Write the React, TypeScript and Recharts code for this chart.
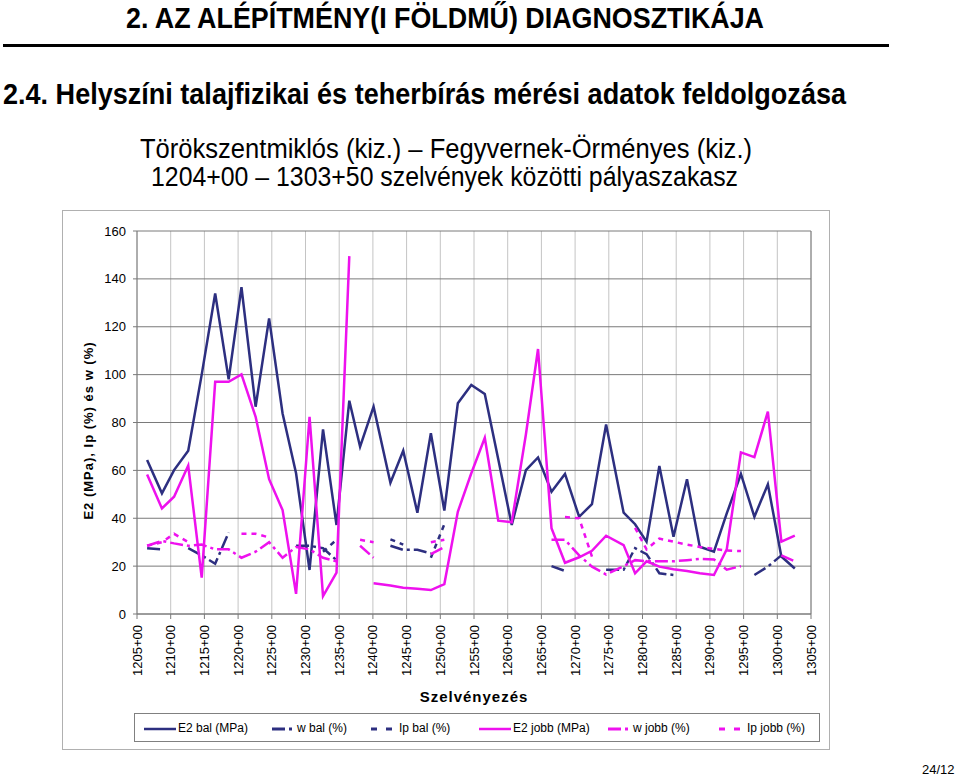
import React from 'react';
import { LineChart, Line, XAxis, YAxis, CartesianGrid, ReferenceLine, Label } from 'recharts';

// measured chainages (hm) and readings
const stations = [1206.5, 1208.7, 1210.5, 1212.6, 1214.6, 1216.6, 1218.6, 1220.5, 1222.6, 1224.6, 1226.6, 1228.6, 1230.6, 1232.6, 1234.6, 1236.5, 1238.1, 1240.1, 1242.6, 1244.5, 1246.6, 1248.6, 1250.6, 1252.6, 1254.6, 1256.6, 1258.6, 1260.6, 1262.7, 1264.5, 1266.5, 1268.5, 1270.6, 1272.5, 1274.6, 1277.2, 1278.9, 1280.6, 1282.5, 1284.6, 1286.6, 1288.5, 1290.6, 1292.5, 1294.6, 1296.6, 1298.6, 1300.6, 1302.6];

const e2Bal = [64.3, 50.4, 60.1, 68.2, 100, 133.9, 98, 136.5, 86.6, 123.5, 83.8, 58.8, 18.4, 77.1, 37.2, 89.1, 69.9, 86.6, 54.8, 68.2, 42.3, 75.5, 43.2, 88, 95.7, 91.9, 64.6, 37.2, 60.1, 65.4, 51.1, 58.5, 40.6, 45.9, 79.2, 42.3, 37.5, 30.2, 61.8, 32.3, 56.3, 28.1, 26, 42, 58.5, 40.6, 54.2, 24, 19];

const wBal = [27.5, 27, null, 27.5, 24.5, 21, 34, null, null, null, null, 28.5, 28.5, 27.5, 22.5, null, null, null, 28.5, 26.8, 26.8, 25.3, null, null, null, null, null, null, null, null, 20, 18, null, null, 18.5, 18.5, 27.5, 25, 17, 16.3, null, null, null, null, null, 16.3, 19.8, 24.5, null];

const ipBal = [null, null, null, null, null, null, null, null, null, null, null, null, null, 26, 31, null, null, null, 31.2, 29, null, 23.5, 37.5, null, null, null, null, null, null, null, null, null, null, null, null, null, null, null, null, null, null, null, null, null, null, null, null, null, null];

const e2Jobb = [58.3, 44.1, 49, 62, 15.2, 97, 97, 100.1, 82.4, 56.3, 43.4, 8.4, 82.4, 7.5, 17.3, 149.5, null, 12.8, 11.9, 11, 10.5, 10, 12.5, 42.7, 58.8, 73.6, 39, 38.3, 75, 110.7, 35.8, 21.4, 23.7, 26.4, 32.7, 28.8, 17, 22, 19.8, 18.7, 18, 17, 16.3, 27, 67.5, 65.5, 84.5, 30.2, 32.7];

const wJobb = [28.5, 30.5, 29.5, 28.5, 29, 27, 27, 23.5, 26, 30, 23.5, 28, 27, 23.5, 22, null, 28.5, 23.5, null, null, null, 25, 28, null, null, null, null, null, null, null, 31, 31, 24.5, 19.8, 16.5, 20, 22.5, 22, 22, 22, 22.5, 23, 22.8, 18.5, 20, null, null, 24.5, 22];

const ipJobb = [28.5, 30, 33.5, 30, null, null, null, 33.5, 33.5, 32, null, null, null, null, null, null, 31, 30, null, null, null, 30, 31, null, null, null, null, null, null, null, null, 40.5, 40, 24, null, null, 36, 27, 31.5, 30.2, 29, 28, 27.2, 26.5, 26.3, null, null, null, null];

const xTicks = [1205, 1210, 1215, 1220, 1225, 1230, 1235, 1240, 1245, 1250, 1255, 1260, 1265, 1270, 1275, 1280, 1285, 1290, 1295, 1300, 1305];
const yTicks = [0, 20, 40, 60, 80, 100, 120, 140, 160];

const legendLabels = ['E2 bal (MPa)', 'w bal (%)', 'Ip bal (%)', 'E2 jobb (MPa)', 'w jobb (%)', 'Ip jobb (%)'];

const NAVY = '#2D2F80';
const MAGENTA = '#EE11EE';
const FONT = "'Liberation Sans', Arial, Helvetica, sans-serif";
const W_DASH = '13 4 3 4';
const IP_DASH = '5 5';

const rows = stations.map((s, i) => ({
    s,
    e2Bal: e2Bal[i],
    wBal: wBal[i],
    ipBal: ipBal[i],
    e2Jobb: e2Jobb[i],
    wJobb: wJobb[i],
    ipJobb: ipJobb[i],
}));

const measure = (text: string, font: string) => {
    const ctx = document.createElement('canvas').getContext('2d');
    if (!ctx) return text.length * 10;
    ctx.font = font;
    return ctx.measureText(text).width;
};

// text squeezed horizontally to the width it has in the slide
const FitText = ({ text, left, center, top, width, size, weight }: any) => {
    const natural = measure(text, `${weight} ${size}px ${FONT}`);
    const sx = width / natural;
    const x = center !== undefined ? center - width / 2 : left;
    return (
        <div
            style={{
                position: 'absolute',
                left: x,
                top,
                whiteSpace: 'nowrap',
                fontFamily: FONT,
                fontSize: size,
                fontWeight: weight,
                lineHeight: 1,
                color: '#000',
                transform: `scaleX(${sx})`,
                transformOrigin: '0 0',
            }}
        >
            {text}
        </div>
    );
};

const StationTick = ({ x, y, payload }: any) => (
    <text
        x={x}
        y={y}
        transform={`rotate(-90, ${x}, ${y})`}
        textAnchor="end"
        dominantBaseline="central"
        fontSize={13}
        fill="#000"
        fontFamily={FONT}
    >
        {`${payload.value}+00`}
    </text>
);

const XTitle = ({ viewBox }: any) => (
    <text
        x={viewBox.x + viewBox.width / 2}
        y={viewBox.y + 88}
        textAnchor="middle"
        fontSize={15}
        fontWeight="bold"
        letterSpacing={1}
        fill="#000"
        fontFamily={FONT}
    >
        Szelvényezés
    </text>
);

const YTitle = ({ viewBox }: any) => {
    const cx = viewBox.x + 26;
    const cy = viewBox.y + viewBox.height / 2 + 8;
    return (
        <text
            x={cx}
            y={cy}
            transform={`rotate(-90, ${cx}, ${cy})`}
            textAnchor="middle"
            dominantBaseline="central"
            fontSize={13}
            fontWeight="bold"
            letterSpacing={1}
            fill="#000"
            fontFamily={FONT}
        >
            E2 (MPa), Ip (%) és w (%)
        </text>
    );
};

const Swatch = ({ color, kind }: any) => (
    <svg width={34} height={10} style={{ position: 'absolute', left: 0, top: 4 }}>
        {kind === 'solid' && <line x1={1} y1={5} x2={33} y2={5} stroke={color} strokeWidth={2.5} />}
        {kind === 'w' && (
            <>
                <line x1={10} y1={5} x2={23} y2={5} stroke={color} strokeWidth={3} />
                <line x1={27} y1={5} x2={30} y2={5} stroke={color} strokeWidth={3} />
            </>
        )}
        {kind === 'ip' && (
            <>
                <line x1={7} y1={5} x2={13} y2={5} stroke={color} strokeWidth={3} />
                <line x1={22} y1={5} x2={28} y2={5} stroke={color} strokeWidth={3} />
            </>
        )}
    </svg>
);

const legendStyle = [
    { color: NAVY, kind: 'solid', textX: 178 },
    { color: NAVY, kind: 'w', textX: 297 },
    { color: NAVY, kind: 'ip', textX: 399 },
    { color: MAGENTA, kind: 'solid', textX: 513 },
    { color: MAGENTA, kind: 'w', textX: 633 },
    { color: MAGENTA, kind: 'ip', textX: 747 },
];

const ChartLegend = () => (
    <div
        style={{
            position: 'absolute',
            left: 134,
            top: 713,
            width: 684,
            height: 27,
            border: '1px solid #808080',
            fontFamily: FONT,
            fontSize: 12,
        }}
    >
        {legendLabels.map((label, i) => {
            const st = legendStyle[i];
            return (
                <div key={label} style={{ position: 'absolute', left: st.textX - 135 - 35, top: 6, height: 16 }}>
                    <Swatch color={st.color} kind={st.kind} />
                    <span style={{ position: 'absolute', left: 35, top: 0, whiteSpace: 'nowrap', lineHeight: '16px' }}>{label}</span>
                </div>
            );
        })}
    </div>
);

export default function App() {
    return (
        <div style={{ position: 'absolute', left: 0, top: 0, width: 960, height: 776, background: '#fff', overflow: 'hidden' }}>
            <FitText text="2. AZ ALÉPÍTMÉNY(I FÖLDMŰ) DIAGNOSZTIKÁJA" center={446} top={3} width={640} size={30} weight="bold" />
            <div style={{ position: 'absolute', left: 3, top: 44, width: 886, height: 3, background: '#000' }} />
            <FitText text="2.4. Helyszíni talajfizikai és teherbírás mérési adatok feldolgozása" left={3} top={79} width={843} size={30} weight="bold" />
            <FitText text="Törökszentmiklós (kiz.) – Fegyvernek-Örményes (kiz.)" center={446} top={136} width={612} size={27} weight="normal" />
            <FitText text="1204+00 – 1303+50 szelvények közötti pályaszakasz" center={444} top={164} width={587} size={27} weight="normal" />

            <div style={{ position: 'absolute', left: 62, top: 210, width: 768, height: 540, border: '1px solid #b0b0b0', boxSizing: 'border-box' }} />
            <div style={{ position: 'absolute', left: 62, top: 210 }}>
                <LineChart width={768} height={540} data={rows} margin={{ top: 21, right: 19, bottom: 0, left: 0 }}>
                    <CartesianGrid horizontal={false} vertical stroke="#c4c4c4" strokeWidth={1} />
                    <CartesianGrid horizontal vertical={false} stroke="#7a7a7a" strokeWidth={1} />
                    <ReferenceLine x={1305} stroke="#7a7a7a" strokeWidth={1} />
                    <XAxis
                        dataKey="s"
                        type="number"
                        domain={[1205, 1305]}
                        ticks={xTicks}
                        interval={0}
                        allowDataOverflow
                        height={136}
                        tickSize={5}
                        tickMargin={6}
                        tick={<StationTick />}
                        axisLine={{ stroke: '#7a7a7a' }}
                        tickLine={{ stroke: '#7a7a7a' }}
                    >
                        <Label content={<XTitle />} />
                    </XAxis>
                    <YAxis
                        type="number"
                        domain={[0, 160]}
                        ticks={yTicks}
                        interval={0}
                        width={75}
                        tickSize={4}
                        tickMargin={7}
                        tick={{ fontSize: 13, fill: '#000', fontFamily: FONT }}
                        axisLine={{ stroke: '#7a7a7a' }}
                        tickLine={{ stroke: '#7a7a7a' }}
                    >
                        <Label content={<YTitle />} />
                    </YAxis>
                    <Line type="linear" dataKey="e2Bal" name="E2 bal (MPa)" stroke={NAVY} strokeWidth={2.5} dot={false} activeDot={false} isAnimationActive={false} />
                    <Line type="linear" dataKey="wBal" name="w bal (%)" stroke={NAVY} strokeWidth={2.5} strokeDasharray={W_DASH} dot={false} activeDot={false} isAnimationActive={false} />
                    <Line type="linear" dataKey="ipBal" name="Ip bal (%)" stroke={NAVY} strokeWidth={2.5} strokeDasharray={IP_DASH} dot={false} activeDot={false} isAnimationActive={false} />
                    <Line type="linear" dataKey="e2Jobb" name="E2 jobb (MPa)" stroke={MAGENTA} strokeWidth={2.5} dot={false} activeDot={false} isAnimationActive={false} />
                    <Line type="linear" dataKey="wJobb" name="w jobb (%)" stroke={MAGENTA} strokeWidth={2.5} strokeDasharray={W_DASH} dot={false} activeDot={false} isAnimationActive={false} />
                    <Line type="linear" dataKey="ipJobb" name="Ip jobb (%)" stroke={MAGENTA} strokeWidth={2.5} strokeDasharray={IP_DASH} dot={false} activeDot={false} isAnimationActive={false} />
                </LineChart>
            </div>
            <ChartLegend />
            <div style={{ position: 'absolute', left: 922, top: 762, fontFamily: FONT, fontSize: 13, color: '#000' }}>24/12</div>
        </div>
    );
}
